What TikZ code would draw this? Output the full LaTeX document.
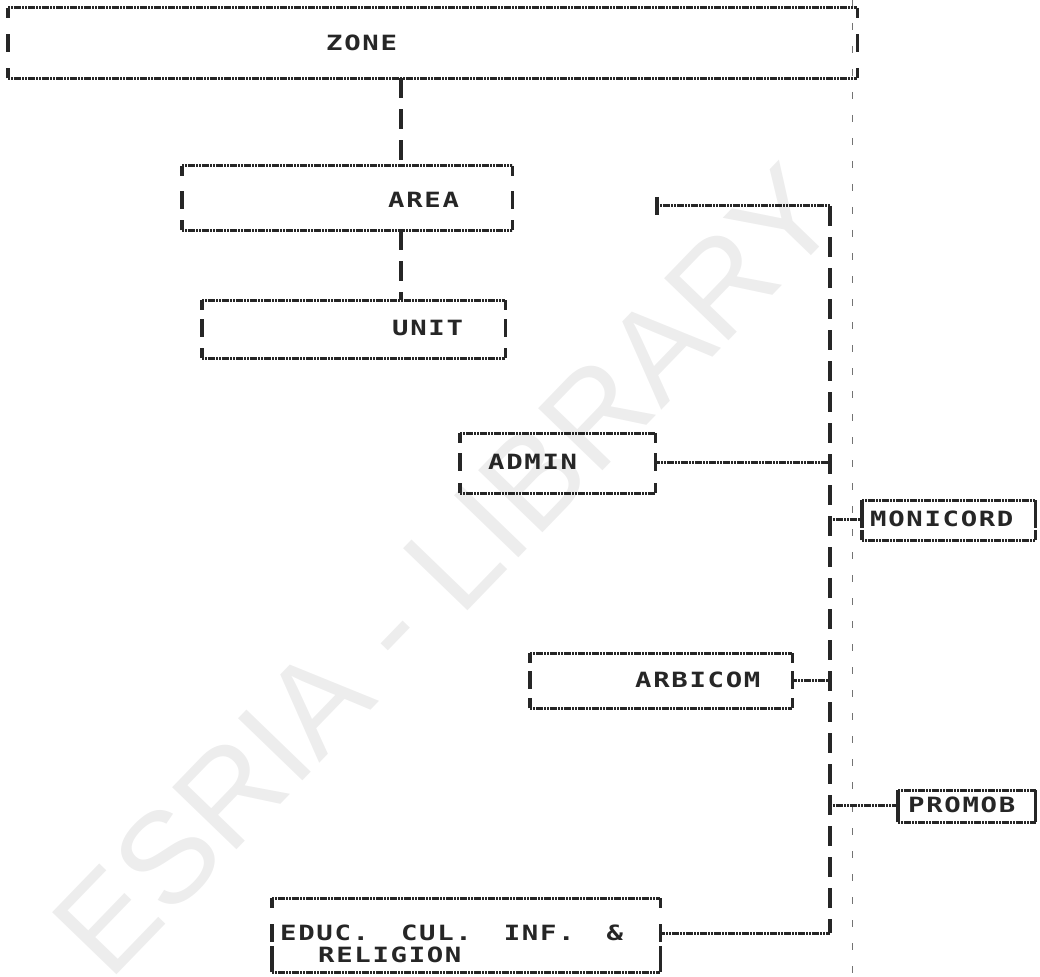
\documentclass[tikz,border=0pt]{standalone}
\usepackage{fontspec}
\newfontfamily\dotfont[FakeStretch=1.3,LetterSpace=8]{DejaVu Sans Mono}
\newfontfamily\wmfont{Liberation Sans}
\usetikzlibrary{calc}
\newcommand\frameit[1]{%
  \draw[hl] (#1.north west) -- (#1.north east);
  \draw[hl] (#1.south west) -- (#1.south east);
  \draw[vl] (#1.north west) -- ++(0,10);
  \draw[vl] (#1.north east) -- ++(0,10);
  \draw[vl] (#1.south west) -- ++(0,-10);
  \draw[vl] (#1.south east) -- ++(0,-10);
}
\newcommand\midbars[2]{% node, offset from baseline
  \draw[vl] ($(#1.base west)+(0,#2-9)$) -- ($(#1.base west)+(0,#2+9)$);
  \draw[vl] ($(#1.base east)+(0,#2-9)$) -- ($(#1.base east)+(0,#2+9)$);
}
\begin{document}
\begin{tikzpicture}[x=1pt,y=-1pt,
  hl/.style={line width=3pt, dash pattern=on 2.2pt off 0.6pt, black!85},
  vl/.style={line width=3.6pt, black!85},
  vconn/.style={line width=3.6pt, dash pattern=on 20pt off 11pt, black!85},
  box/.style={draw=none, inner sep=0pt, align=left, anchor=north west,
    font=\dotfont\bfseries\fontsize{21}{22}\selectfont, text=black!85},
  wm/.style={text=black!7, font=\wmfont\fontsize{130}{130}\selectfont},
  fold/.style={black!55, line width=0.6pt, dash pattern=on 7pt off 16pt},
]
\useasboundingbox (0,0) rectangle (1040,976);

% watermark
\node[wm, rotate=46] (wmark) at (445,570) {ESRIA - LIBRARY};

% fold line
\coordinate (foldtop) at (852,0);
\coordinate (foldbot) at (852,976);
\draw[fold] (foldtop) -- (foldbot);

% boxes
\node[box, text width=849pt, text height=42.6pt, text depth=27.4pt] (zone) at (8,8) {\hspace*{318pt}ZONE};
\node[box, text width=330pt, text height=41.6pt, text depth=22.4pt] (area) at (182,166) {\hspace*{206pt}AREA};
\node[box, text width=303pt, text height=35.6pt, text depth=22.4pt] (unit) at (202,300) {\hspace*{190pt}UNIT};
\node[box, text width=195pt, text height=36.6pt, text depth=23.4pt] (admin) at (460,433) {\hspace*{28pt}ADMIN};
\node[box, text width=173pt, text height=26.6pt, text depth=13.4pt] (moni) at (862,500) {\hspace*{8pt}MONICORD};
\node[box, text width=262pt, text height=34.6pt, text depth=20.4pt] (arb) at (530,653) {\hspace*{105pt}ARBICOM};
\node[box, text width=137pt, text height=22.6pt, text depth=9.4pt] (promob) at (898,790) {\hspace*{10pt}PROMOB};
\node[box, text width=388pt, text height=42.6pt, text depth=31.4pt] (educ) at (272,898)
  {\hspace*{8pt}EDUC.\hspace*{32pt}CUL.\hspace*{32pt}INF.\hspace*{32pt}\&\\\hspace*{46pt}RELIGION};

\frameit{zone}\midbars{zone}{-7.6}
\frameit{area}\midbars{area}{-7.6}
\frameit{unit}\midbars{unit}{-7.6}
\frameit{admin}\midbars{admin}{-7.6}
\frameit{moni}\midbars{moni}{-7.6}
\frameit{arb}\midbars{arb}{-7.6}
\frameit{promob}\midbars{promob}{-7.6}
\frameit{educ}\midbars{educ}{-7.6}\midbars{educ}{14.4}

% connectors
\coordinate (ux) at (401,0);
\coordinate (tx) at (830,0);
\draw[vconn] (zone.south -| ux) -- (area.north -| ux);
\draw[vconn] (area.south -| ux) -- (unit.north -| ux);

\coordinate (aJ) at (657,206);
\coordinate (tTop) at (830,206);
\draw[vl] ($(aJ)+(0,-9)$) -- ($(aJ)+(0,9)$);
\draw[hl] (aJ) -- (tTop);

\coordinate (adminR) at ($(admin.base east)+(0,-7.6)$);
\coordinate (moniL) at ($(moni.base west)+(0,-7.6)$);
\coordinate (arbR) at ($(arb.base east)+(0,-7.6)$);
\coordinate (promobL) at ($(promob.base west)+(0,-7.6)$);
\coordinate (educR) at ($(educ.base east)+(0,-7.6)$);
\coordinate (tBot) at (educR -| tx);

\draw[vconn] (tTop) -- (tBot);
\draw[hl] (adminR) -- (adminR -| tx);
\draw[hl] (moniL -| tx) -- (moniL);
\draw[hl] (arbR) -- (arbR -| tx);
\draw[hl] (promobL -| tx) -- (promobL);
\draw[hl] (educR) -- (tBot);
\end{tikzpicture}
\end{document}
